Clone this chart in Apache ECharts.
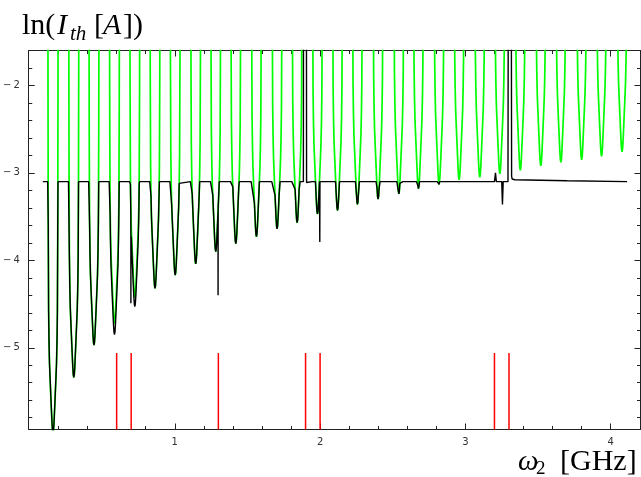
<!DOCTYPE html>
<html><head><meta charset="utf-8">
<script src="https://cdn.jsdelivr.net/npm/echarts@6/dist/echarts.min.js"></script>
<style>html,body{margin:0;padding:0;background:#fff}#c{width:641px;height:477px}</style>
</head><body><div id="c"></div>
<script>
// ---- values ----
const dipCenters = [0.162,0.305,0.444,0.585,0.725,0.864,1.003,1.144,1.282,1.420,1.562,1.704,1.842,1.982,2.120,2.257,2.399,2.542,2.677,2.819,2.957,3.099,3.237,3.378,3.519,3.657,3.800,3.937,4.078];
const greenMins  = [-5.98,-5.34,-4.97,-4.725,-4.43,-4.32,-4.17,-4.04,-3.90,-3.81,-3.73,-3.64,-3.57,-3.47,-3.43,-3.36,-3.30,-3.24,-3.18,-3.13,-3.08,-3.05,-3.01,-2.97,-2.92,-2.88,-2.85,-2.81,-2.76];
const blackMins  = [-5.98,-5.34,-4.97,-4.85,-4.53,-4.32,-4.17,-4.04,-3.90,-3.81,-3.73,-3.64,-3.57,-3.47,-3.43,-3.36,-3.30,-3.24,-3.18,-3.13,-3.08,-3.05,-3.01,-2.97,-2.92,-2.88,-2.85,-2.81,-2.76];
const profileDx = [0, 0.0034, 0.0069, 0.0138, 0.0206, 0.0241, 0.0275, 0.0303, 0.0327, 0.0344, 0.0365];
const profileDy = [0, 0.03, 0.12, 0.38, 0.65, 0.8, 1.05, 1.4, 2.4, 4.0, 7.0];
const blackBaseline = -3.1;
const blackStart = [0.092, -3.1];
const blackEnd = [4.113, -3.1];
const blackFeatures = [
  [0.6978,-3.7],[0.698,-4.49],[0.6985,-3.8],
  [1.2975,-3.45],[1.298,-4.40],[1.2985,-3.4],
  [1.885,-3.1],[1.886,-1.0],[1.906,-1.0],[1.907,-3.11],
  [1.997,-3.1],[1.998,-3.79],[1.999,-3.1],
  [3.200,-3.1],[3.207,-3.0],[3.213,-3.1],
  [3.250,-3.1],[3.255,-3.36],[3.260,-3.1],
  [3.293,-3.1],[3.295,-1.0],[3.316,-1.0],[3.318,-3.04],[3.322,-3.07],[3.34,-3.078],[3.7,-3.09]
];
const redLineX = [0.6,0.7,1.3,1.9,2.0,3.2,3.3];
const redLineTop = -5.06;
const xMin = -0.005, xMax = 4.205, yMin = -5.935, yMax = -1.6;
const xMajorTicks = [1,2,3,4];
const xMinorTicks = [0.2,0.4,0.6,0.8,1.2,1.4,1.6,1.8,2.2,2.4,2.6,2.8,3.2,3.4,3.6,3.8,4.2];
const yMajorTicks = [-5,-4,-3,-2];
const yMinorTicks = [-5.8,-5.6,-5.4,-5.2,-4.8,-4.6,-4.4,-4.2,-3.8,-3.6,-3.4,-3.2,-2.8,-2.6,-2.4,-2.2,-1.8];

// ---- build series data ----
function dipPoints(c, m, clampTop) {
  const pts = [];
  for (let k = profileDx.length - 1; k >= 1; k--) pts.push([c - profileDx[k], m + profileDy[k]]);
  pts.push([c, m]);
  for (let k = 1; k < profileDx.length; k++) pts.push([c + profileDx[k], m + profileDy[k]]);
  if (clampTop !== undefined) return pts.map(p => [p[0], Math.min(p[1], clampTop)]);
  return pts;
}
const greenData = [];
dipCenters.forEach((c, i) => greenData.push(...dipPoints(c, greenMins[i])));

let blackData = [blackStart];
dipCenters.forEach((c, i) => { if (blackMins[i] < blackBaseline) blackData.push(...dipPoints(c, blackMins[i], blackBaseline)); });
blackData.push(...blackFeatures);
blackData.push(blackEnd);
blackData.sort((a, b) => a[0] - b[0]);

const redSeries = redLineX.map(x => ({
  type: 'line', data: [[x, yMin], [x, redLineTop]], showSymbol: false, silent: true,
  lineStyle: { color: '#ff0000', width: 1.5 }, z: 4, animation: false
}));

function xAxisDef(pos, ticks, len, labels) {
  return {
    type: 'value', position: pos, min: xMin, max: xMax, gridIndex: 0,
    axisLine: { show: true, onZero: false, lineStyle: { color: '#222', width: 1 } },
    axisTick: { show: true, inside: true, length: len, customValues: ticks, lineStyle: { color: '#222', width: 1 } },
    axisLabel: labels ? { show: true, customValues: ticks, margin: 8, fontSize: 10, color: '#333', fontFamily: 'DejaVu Sans', formatter: v => String(v) } : { show: false },
    splitLine: { show: false }, minorTick: { show: false }
  };
}
function yAxisDef(pos, ticks, len, labels) {
  return {
    type: 'value', position: pos, min: yMin, max: yMax, gridIndex: 0,
    axisLine: { show: true, onZero: false, lineStyle: { color: '#222', width: 1 } },
    axisTick: { show: true, inside: true, length: len, customValues: ticks, lineStyle: { color: '#222', width: 1 } },
    axisLabel: labels ? { show: true, customValues: ticks, margin: 9, fontSize: 10, color: '#333', fontFamily: 'DejaVu Sans', formatter: v => '\u2212\u2009' + Math.abs(v) } : { show: false },
    splitLine: { show: false }, minorTick: { show: false }
  };
}

const chart = echarts.init(document.getElementById('c'), null, { renderer: 'canvas' });
const serif = '"Liberation Serif","DejaVu Serif",serif';
function t(x, y, text, size, italic) {
  return { type: 'text', x: x, y: y, silent: true,
    style: { text: text, fill: '#000', font: (italic ? 'italic ' : '') + size + 'px ' + serif, verticalAlign: 'middle', align: 'left' } };
}
chart.setOption({
  animation: false,
  backgroundColor: '#fff',
  grid: { left: 28.5, right: 0.5, top: 50.5, bottom: 47.5, containLabel: false },
  xAxis: [
    xAxisDef('bottom', xMajorTicks, 6, true),
    xAxisDef('top', xMajorTicks, 6, false),
    xAxisDef('bottom', xMinorTicks, 3.5, false),
    xAxisDef('top', xMinorTicks, 3.5, false)
  ],
  yAxis: [
    yAxisDef('left', yMajorTicks, 6, true),
    yAxisDef('right', yMajorTicks, 6, false),
    yAxisDef('left', yMinorTicks, 3.5, false),
    yAxisDef('right', yMinorTicks, 3.5, false)
  ],
  series: [
    { type: 'line', name: 'green', data: greenData, showSymbol: false, clip: true, silent: true,
      lineStyle: { color: '#00ff00', width: 1.7 }, z: 2 },
    { type: 'line', name: 'black', data: blackData, showSymbol: false, clip: true, silent: true,
      lineStyle: { color: '#000000', width: 1.4 }, z: 3 },
    ...redSeries
  ],
  graphic: [
    t(22, 26, 'ln(', 30, false),
    t(57, 26, 'I', 30, true),
    t(70, 34, 'th', 21, true),
    t(94, 26, '[', 30, false),
    t(103, 26, 'A', 30, true),
    t(123, 26, '])', 30, false),
    t(518, 462, 'ω', 29, true),
    t(536, 469, '2', 19, false),
    t(560, 462, '[GHz]', 30, false)
  ]
});
</script></body></html>
